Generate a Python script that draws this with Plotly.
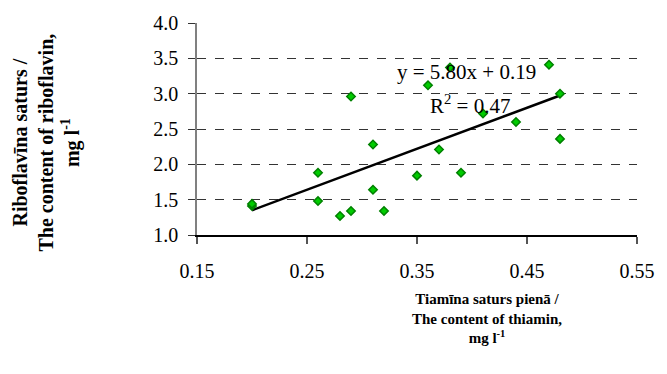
import plotly.graph_objects as go

# Data
thiamin = [0.20, 0.20, 0.26, 0.26, 0.28, 0.29, 0.29, 0.31, 0.31, 0.32,
           0.35, 0.36, 0.37, 0.38, 0.39, 0.41, 0.44, 0.47, 0.48, 0.48]
riboflavin = [1.41, 1.44, 1.88, 1.48, 1.27, 1.34, 2.96, 2.28, 1.64, 1.34,
              1.84, 3.12, 2.21, 3.37, 1.88, 2.72, 2.60, 3.41, 3.00, 2.36]

slope = 5.80
intercept = 0.19
trend_x = [min(thiamin), max(thiamin)]
trend_y = [slope * v + intercept for v in trend_x]

x_ticks = [0.15, 0.25, 0.35, 0.45, 0.55]
x_tick_labels = ["0.15", "0.25", "0.35", "0.45", "0.55"]
y_ticks = [1.0, 1.5, 2.0, 2.5, 3.0, 3.5, 4.0]
y_tick_labels = ["1.0", "1.5", "2.0", "2.5", "3.0", "3.5", "4.0"]

FONT = "Liberation Serif"

fig = go.Figure()
fig.add_trace(go.Scatter(
    x=trend_x, y=trend_y, mode="lines",
    line=dict(color="black", width=2.5),
    showlegend=False, hoverinfo="skip"))
fig.add_trace(go.Scatter(
    x=thiamin, y=riboflavin, mode="markers",
    marker=dict(symbol="diamond", size=6.5, color="#00cc00",
                line=dict(color="#008000", width=1.5)),
    showlegend=False))

fig.update_layout(
    width=667, height=374,
    margin=dict(l=197, r=19, t=23, b=139),
    paper_bgcolor="white", plot_bgcolor="white",
    font=dict(family=FONT, color="black", size=20),
    xaxis=dict(range=[0.15, 0.55], tickvals=x_ticks, ticktext=x_tick_labels,
               showgrid=False, zeroline=False, showline=True,
               linecolor="black", linewidth=1.5,
               ticks="outside", ticklen=7, tickcolor="#555", tickwidth=1.5,
               ticklabelstandoff=10,
               tickfont=dict(family=FONT, size=20)),
    yaxis=dict(range=[1.0, 4.0], tickvals=y_ticks, ticktext=y_tick_labels,
               showgrid=True, gridcolor="#333", griddash="dash", gridwidth=1,
               zeroline=False, showline=True, linecolor="#808080", linewidth=1.5,
               ticks="outside", ticklen=7, tickcolor="#333", tickwidth=1,
               ticklabelstandoff=6,
               tickfont=dict(family=FONT, size=20)),
)

fig.add_annotation(
    text="<b>Tiamīna saturs pienā /<br>The content of thiamin,<br>mg l<sup>-1</sup></b>",
    xref="paper", yref="paper", x=0.66, y=-0.392,
    showarrow=False, font=dict(family=FONT, size=15, color="black"),
    xanchor="center", yanchor="middle", align="center")

fig.add_annotation(
    text="<b>Riboflavīna saturs /<br>The content of riboflavin,<br>mg l<sup>-1</sup></b>",
    xref="paper", yref="paper", x=-0.342, y=0.434, textangle=-90,
    showarrow=False, font=dict(family=FONT, size=20, color="black"),
    xanchor="center", yanchor="middle", align="center")

fig.add_annotation(
    text=f"y = {slope:.2f}x + {intercept:.2f}",
    x=0.395, y=3.31, xref="x", yref="y", showarrow=False,
    font=dict(family=FONT, size=21, color="black"))
fig.add_annotation(
    text="R<sup>2</sup> = 0.47",
    x=0.398, y=2.85, xref="x", yref="y", showarrow=False,
    font=dict(family=FONT, size=21, color="black"))

fig.write_html("out.html")
